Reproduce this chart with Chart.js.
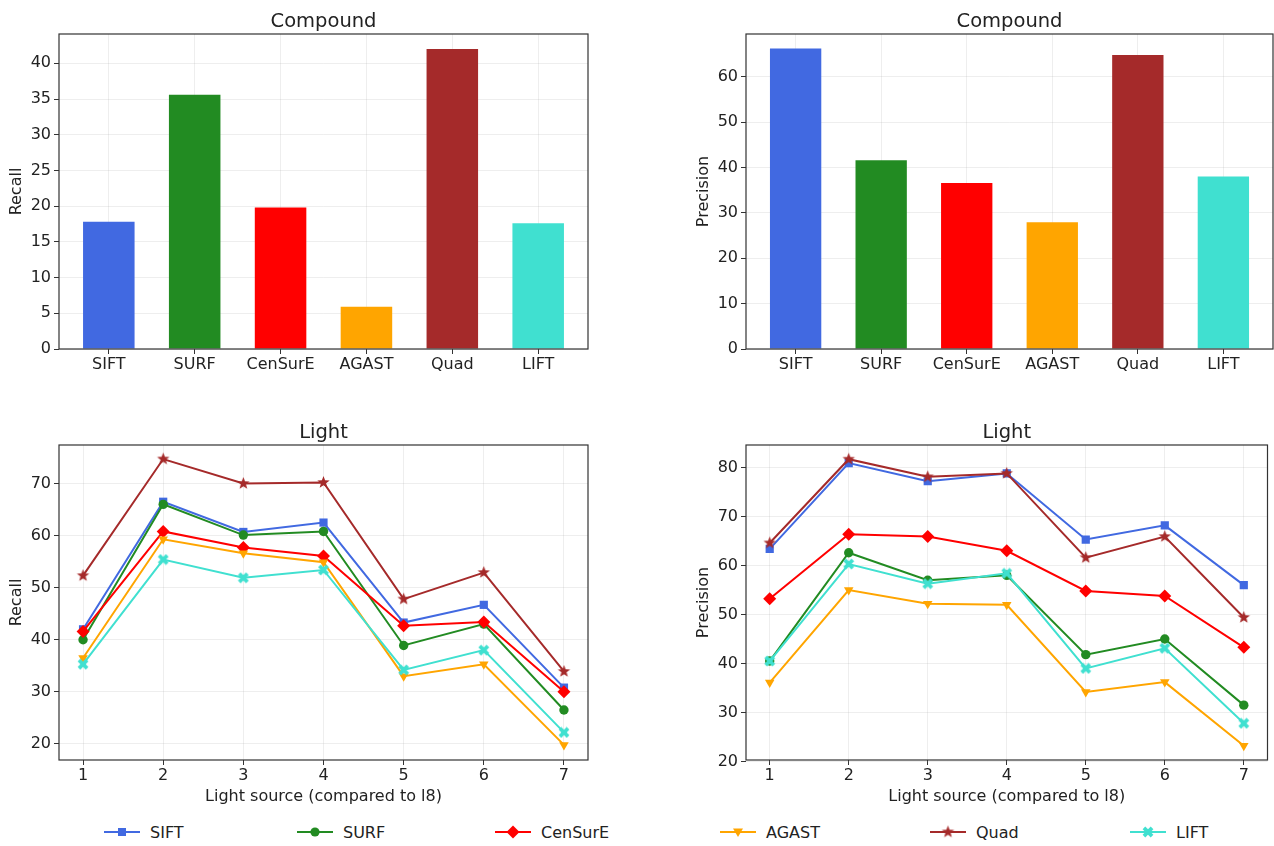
<!DOCTYPE html>
<html>
<head>
<meta charset="utf-8">
<script src="https://cdn.jsdelivr.net/npm/chart.js@4.4.1/dist/chart.umd.min.js"></script>
<style>
  html, body { margin:0; padding:0; background:#fff; }
  body { width:1274px; height:846px; position:relative; overflow:hidden; font-family:"DejaVu Sans", sans-serif; }
  .box { position:absolute; }
  .leg { position:absolute; top:822px; height:20px; display:flex; align-items:center; font-size:16px; color:#222; }
  .leg canvas { margin-right:10px; }
</style>
</head>
<body>
<div class="box" style="left:0;top:0;width:600px;height:400px"><canvas id="c1"></canvas></div>
<div class="box" style="left:680px;top:0;width:594px;height:400px"><canvas id="c2"></canvas></div>
<div class="box" style="left:0;top:418px;width:600px;height:392px"><canvas id="c3"></canvas></div>
<div class="box" style="left:680px;top:418px;width:594px;height:392px"><canvas id="c4"></canvas></div>
<div id="legend"></div>
<script>
// ---- data ----
const categories = ['SIFT', 'SURF', 'CenSurE', 'AGAST', 'Quad', 'LIFT'];
const compoundRecall = [17.8, 35.6, 19.8, 5.9, 42.0, 17.6];
const compoundPrecision = [66.2, 41.6, 36.6, 27.9, 64.8, 38.0];

const lightSources = [1, 2, 3, 4, 5, 6, 7];
const recallSIFT    = [42.0, 66.5, 60.7, 62.5, 43.3, 46.7, 30.8];
const recallSURF    = [40.0, 66.0, 60.1, 60.8, 38.9, 43.0, 26.5];
const recallCenSurE = [41.6, 60.8, 57.7, 56.1, 42.7, 43.4, 30.0];
const recallAGAST   = [36.5, 59.3, 56.6, 54.9, 33.0, 35.3, 19.8];
const recallQuad    = [52.3, 74.7, 70.0, 70.2, 47.8, 52.9, 33.9];
const recallLIFT    = [35.3, 55.4, 51.9, 53.4, 34.2, 38.0, 22.2];

const precisionSIFT    = [63.4, 80.9, 77.2, 78.8, 65.3, 68.2, 56.0];
const precisionSURF    = [40.5, 62.6, 57.0, 58.0, 41.8, 45.0, 31.5];
const precisionCenSurE = [53.2, 66.4, 65.9, 63.0, 54.8, 53.8, 43.3];
const precisionAGAST   = [36.1, 55.0, 52.2, 52.0, 34.2, 36.2, 23.2];
const precisionQuad    = [64.6, 81.7, 78.1, 78.8, 61.6, 65.9, 49.4];
const precisionLIFT    = [40.5, 60.3, 56.3, 58.4, 39.0, 43.1, 27.8];

const recallTicks = [0, 5, 10, 15, 20, 25, 30, 35, 40];
const precisionTicks = [0, 10, 20, 30, 40, 50, 60];
const lightRecallTicks = [20, 30, 40, 50, 60, 70];
const lightPrecisionTicks = [20, 30, 40, 50, 60, 70, 80];

// ---- styles ----
const colors = ['#4169E1', '#228B22', '#FF0000', '#FFA500', '#A52A2A', '#40E0D0'];

function starCanvas(color, r) {
  const s = Math.ceil(r * 2 + 2), c = document.createElement('canvas');
  c.width = s; c.height = s;
  const g = c.getContext('2d'); g.fillStyle = color; g.beginPath();
  for (let i = 0; i < 10; i++) {
    const rr = i % 2 === 0 ? r : r * 0.42;
    const a = -Math.PI / 2 + i * Math.PI / 5;
    const x = s / 2 + rr * Math.cos(a), y = s / 2 + rr * Math.sin(a);
    i ? g.lineTo(x, y) : g.moveTo(x, y);
  }
  g.closePath(); g.fill(); return c;
}
function xCanvas(color, r) {
  const s = Math.ceil(r * 2 + 2), c = document.createElement('canvas');
  c.width = s; c.height = s;
  const g = c.getContext('2d'); g.fillStyle = color;
  g.translate(s / 2, s / 2);
  const w = r * 0.75;
  for (const ang of [Math.PI / 4, -Math.PI / 4]) {
    g.save(); g.rotate(ang); g.fillRect(-r * 1.15, -w / 2, r * 2.3, w); g.restore();
  }
  return c;
}
const starImg = starCanvas(colors[4], 6.5);
const xImg = xCanvas(colors[5], 5);

const markerStyles = [
  { pointStyle: 'rect', pointRadius: 5.8, rotation: 0 },
  { pointStyle: 'circle', pointRadius: 4.7, rotation: 0 },
  { pointStyle: 'rectRot', pointRadius: 6.5, rotation: 0 },
  { pointStyle: 'triangle', pointRadius: 5.5, rotation: 180 },
  { pointStyle: starImg, pointRadius: 6, rotation: 0 },
  { pointStyle: xImg, pointRadius: 5, rotation: 0 }
];

Chart.defaults.font.family = '"DejaVu Sans", sans-serif';
Chart.defaults.color = '#222';
Chart.defaults.animation = false;

const framePlugin = {
  id: 'frame',
  afterDraw(chart) {
    const a = chart.chartArea, ctx = chart.ctx;
    ctx.save(); ctx.strokeStyle = '#333'; ctx.lineWidth = 1.2;
    ctx.strokeRect(a.left, a.top, a.right - a.left, a.bottom - a.top);
    ctx.restore();
  }
};

const gridStyle = { color: 'rgba(150,150,150,0.16)', tickColor: '#333', tickLength: 5, lineWidth: 1, offset: false };

function yScale(min, max, ticks, title, width, titlePad) {
  return {
    type: 'linear', min: min, max: max,
    afterBuildTicks: s => { s.ticks = ticks.map(v => ({ value: v })); },
    afterFit: s => { s.width = width; },
    grid: gridStyle,
    border: { display: false },
    ticks: { font: { size: 16 }, padding: 3, color: '#222' },
    title: { display: true, text: title, font: { size: 16 }, color: '#222', padding: { top: titlePad, bottom: 0 } }
  };
}

function barChart(id, values, yMin, yMax, ticks, ylabel, yWidth, titlePad, padRight) {
  return new Chart(document.getElementById(id), {
    type: 'bar',
    data: {
      datasets: [{
        data: categories.map((c, i) => ({ x: i, y: values[i] })),
        backgroundColor: colors,
        borderWidth: 0,
        barPercentage: 0.6,
        categoryPercentage: 1
      }]
    },
    options: {
      responsive: true, maintainAspectRatio: false,
      layout: { padding: { right: padRight, left: 0, top: 0, bottom: 0 } },
      plugins: {
        legend: { display: false }, tooltip: { enabled: false },
        title: { display: true, text: 'Compound', fullSize: false, font: { size: 19.5, weight: 'normal' }, color: '#222', padding: { top: 10, bottom: 0.6 } }
      },
      scales: {
        x: {
          type: 'linear', min: -0.58, max: 5.58, offset: false,
          afterBuildTicks: s => { s.ticks = categories.map((c, i) => ({ value: i })); },
          afterFit: s => { s.height = 51; },
          grid: gridStyle, border: { display: false },
          ticks: { font: { size: 16 }, padding: 1.5, color: '#222', maxRotation: 0, callback: v => categories[v] }
        },
        y: yScale(yMin, yMax, ticks, ylabel, yWidth, titlePad)
      }
    },
    plugins: [framePlugin]
  });
}

function lineChart(id, series, yMin, yMax, ticks, ylabel, yWidth, titlePad, padRight) {
  return new Chart(document.getElementById(id), {
    type: 'line',
    data: {
      datasets: series.map((vals, i) => ({
        label: categories[i],
        data: lightSources.map((x, j) => ({ x: x, y: vals[j] })),
        borderColor: colors[i], backgroundColor: colors[i],
        pointBackgroundColor: colors[i], pointBorderColor: colors[i], pointBorderWidth: 0,
        borderWidth: 2, tension: 0,
        pointStyle: markerStyles[i].pointStyle,
        pointRadius: markerStyles[i].pointRadius,
        pointRotation: markerStyles[i].rotation,
        order: 5 - i
      }))
    },
    options: {
      responsive: true, maintainAspectRatio: false,
      layout: { padding: { right: padRight, left: 0, top: 0, bottom: 0 } },
      plugins: {
        legend: { display: false }, tooltip: { enabled: false },
        title: { display: true, text: 'Light', fullSize: false, font: { size: 19.5, weight: 'normal' }, color: '#222', padding: { top: 3, bottom: 0.6 } }
      },
      scales: {
        x: {
          type: 'linear', min: 0.7, max: 7.3,
          afterBuildTicks: s => { s.ticks = lightSources.map(v => ({ value: v })); },
          afterFit: s => { s.height = 50; },
          grid: gridStyle, border: { display: false },
          ticks: { font: { size: 16 }, padding: 1.5, color: '#222' },
          title: { display: true, text: 'Light source (compared to l8)', font: { size: 16 }, color: '#222', padding: { top: 0, bottom: 3.4 } }
        },
        y: yScale(yMin, yMax, ticks, ylabel, yWidth, titlePad)
      }
    },
    plugins: [framePlugin]
  });
}

barChart('c1', compoundRecall, 0, 44.1, recallTicks, 'Recall', 59, 7.4, 12);
barChart('c2', compoundPrecision, 0, 69.4, precisionTicks, 'Precision', 66, 13.9, 1);
lineChart('c3', [recallSIFT, recallSURF, recallCenSurE, recallAGAST, recallQuad, recallLIFT],
  16.9, 77.4, lightRecallTicks, 'Recall', 59, 7.4, 12);
lineChart('c4', [precisionSIFT, precisionSURF, precisionCenSurE, precisionAGAST, precisionQuad, precisionLIFT],
  20.3, 84.6, lightPrecisionTicks, 'Precision', 66, 13.9, 0);

// ---- legend ----
const legendX = [104, 297, 495, 720, 930, 1130];
const legendBox = document.getElementById('legend');
categories.forEach((name, i) => {
  const d = document.createElement('div'); d.className = 'leg'; d.style.left = legendX[i] + 'px';
  const cv = document.createElement('canvas'); cv.width = 36; cv.height = 20;
  const g = cv.getContext('2d');
  g.strokeStyle = colors[i]; g.fillStyle = colors[i]; g.lineWidth = 2;
  g.beginPath(); g.moveTo(0, 10); g.lineTo(36, 10); g.stroke();
  const cx = 18, cy = 10;
  g.beginPath();
  if (i === 0) { g.fillRect(cx - 4, cy - 4, 8, 8); }
  else if (i === 1) { g.arc(cx, cy, 4.6, 0, Math.PI * 2); g.fill(); }
  else if (i === 2) { g.moveTo(cx, cy - 6.5); g.lineTo(cx + 6.5, cy); g.lineTo(cx, cy + 6.5); g.lineTo(cx - 6.5, cy); g.closePath(); g.fill(); }
  else if (i === 3) { g.moveTo(cx - 5, cy - 3.5); g.lineTo(cx + 5, cy - 3.5); g.lineTo(cx, cy + 5); g.closePath(); g.fill(); }
  else if (i === 4) { g.drawImage(starImg, cx - starImg.width / 2, cy - starImg.height / 2); }
  else { g.drawImage(xImg, cx - xImg.width / 2, cy - xImg.height / 2); }
  const sp = document.createElement('span'); sp.textContent = name;
  d.appendChild(cv); d.appendChild(sp); legendBox.appendChild(d);
});
</script>
</body>
</html>
